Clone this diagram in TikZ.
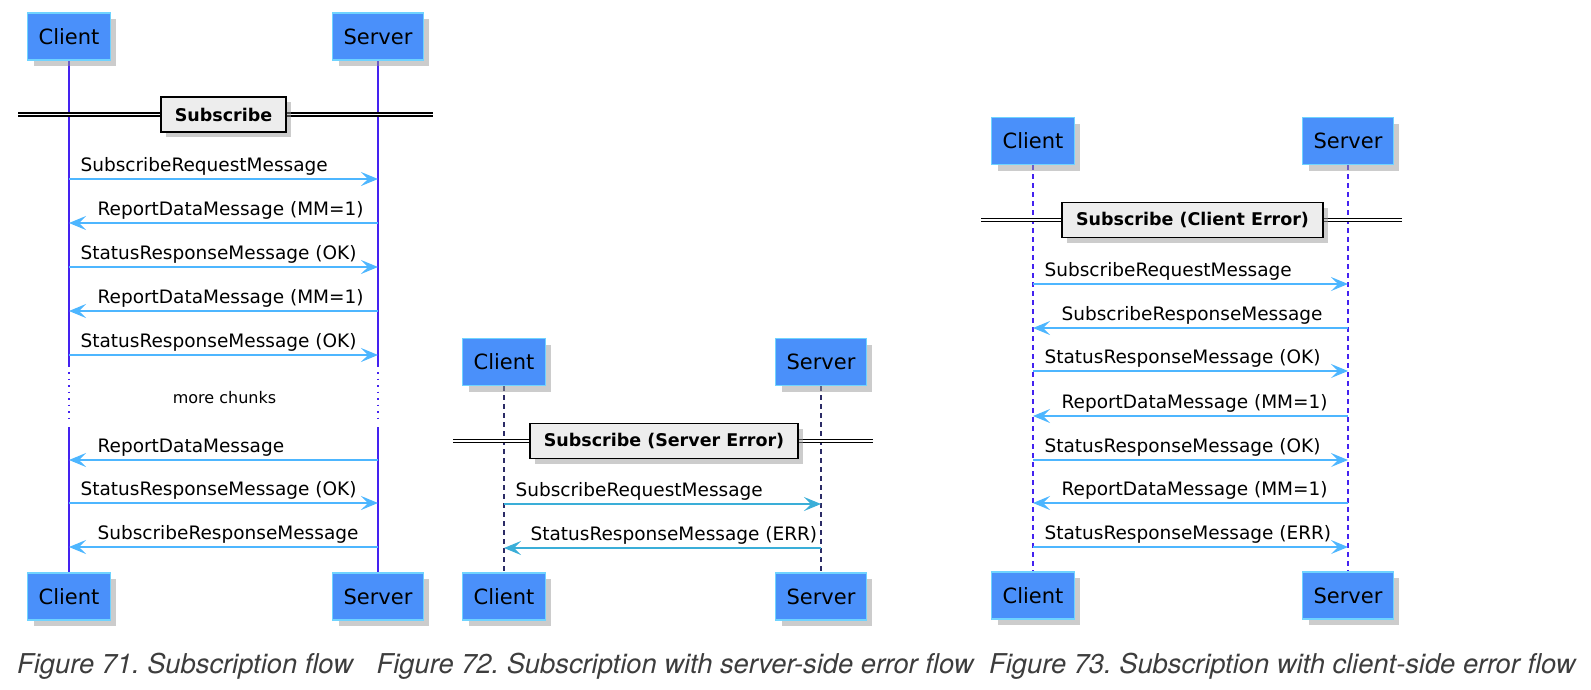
\documentclass[tikz,border=0pt]{standalone}
\usepackage{fontspec}
\setmainfont{DejaVu Sans}
\newfontfamily\capfont{TeX Gyre Heros}
\usetikzlibrary{arrows.meta,positioning,calc,shadows,backgrounds}
\frenchspacing
\definecolor{actfill}{HTML}{4A90FA}
\definecolor{actedge}{HTML}{6FD3FF}
\definecolor{msgblue}{HTML}{4DB6FF}
\definecolor{msgteal}{HTML}{3AAED8}
\definecolor{lifeblue}{HTML}{4422F0}
\definecolor{lifenavy}{HTML}{2B2B66}
\definecolor{capgray}{HTML}{3D3D3D}
\tikzset{every node/.style={font=\fontsize{18.5}{22}\selectfont,text=black},
actor/.style={draw=actedge,line width=1.3pt,fill=actfill,minimum height=47pt,inner xsep=11pt,font=\fontsize{21}{24}\selectfont,
  drop shadow={shadow xshift=6pt,shadow yshift=-6pt,fill=black!40,opacity=.5}},
group/.style={draw=black,line width=1.8pt,fill=black!7,minimum height=35pt,inner xsep=14pt,font=\bfseries\fontsize{17.5}{20}\selectfont,
  drop shadow={shadow xshift=5pt,shadow yshift=-5pt,fill=black!40,opacity=.5}},
rule/.style={draw=black,double=white,double distance=1.6pt,line width=1.3pt},
life/.style={draw=lifeblue,line width=1.1pt},
msg/.style={-{Stealth[length=17pt,width=14pt,inset=7pt]},draw=msgblue,line width=1.2pt},
rlbl/.style={pos=0,anchor=base west,inner sep=0pt,xshift=11pt,yshift=7.5pt},
llbl/.style={pos=1,anchor=base west,inner sep=0pt,xshift=28pt,yshift=7.5pt},
figcap/.style={anchor=base west,inner sep=0pt,text=capgray,font=\capfont\itshape\fontsize{27.3}{32}\selectfont}}

\begin{document}
\begin{tikzpicture}[x=1pt,y=1pt]
\useasboundingbox (0,0) rectangle (1591,-689);

\node[actor] (cli1) at (69,-36.5) {Client};
\node[actor] (srv1) at (378,-36.5) {Server};
\node[actor] (cli1b) at (69,-596.5) {Client};
\node[actor] (srv1b) at (378,-596.5) {Server};
\node[group] (grp1) at (223.5,-114.5) {Subscribe};
\node[font=\fontsize{16}{19}\selectfont] (more1) at (224.5,-398) {more chunks};
\begin{scope}[on background layer]
\draw[life] (cli1) -- (cli1 |- 0,-367) (cli1 |- 0,-427) -- (cli1b);
\draw[life] (srv1) -- (srv1 |- 0,-367) (srv1 |- 0,-427) -- (srv1b);
\draw[life,dash pattern=on 1.5pt off 5pt] (cli1 |- 0,-372) -- (cli1 |- 0,-424);
\draw[life,dash pattern=on 1.5pt off 5pt] (srv1 |- 0,-372) -- (srv1 |- 0,-424);
\draw[rule] ($(cli1 |- grp1)+(-51,0)$) -- ($(srv1 |- grp1)+(55,0)$);
\end{scope}
\draw[msg] (cli1 |- 0,-179) -- node[rlbl] {SubscribeRequestMessage} (srv1 |- 0,-179);
\draw[msg] (srv1 |- 0,-223) -- node[llbl] {ReportDataMessage (MM=1)} (cli1 |- 0,-223);
\draw[msg] (cli1 |- 0,-267) -- node[rlbl] {StatusResponseMessage (OK)} (srv1 |- 0,-267);
\draw[msg] (srv1 |- 0,-311) -- node[llbl] {ReportDataMessage (MM=1)} (cli1 |- 0,-311);
\draw[msg] (cli1 |- 0,-355) -- node[rlbl] {StatusResponseMessage (OK)} (srv1 |- 0,-355);
\draw[msg] (srv1 |- 0,-460) -- node[llbl] {ReportDataMessage} (cli1 |- 0,-460);
\draw[msg] (cli1 |- 0,-503) -- node[rlbl] {StatusResponseMessage (OK)} (srv1 |- 0,-503);
\draw[msg] (srv1 |- 0,-547) -- node[llbl] {SubscribeResponseMessage} (cli1 |- 0,-547);

\node[actor] (cli2) at (504,-362) {Client};
\node[actor] (srv2) at (821,-362) {Server};
\node[actor] (cli2b) at (504,-596.5) {Client};
\node[actor] (srv2b) at (821,-596.5) {Server};
\node[group] (grp2) at (664,-441) {Subscribe (Server Error)};
\begin{scope}[on background layer]
\draw[life,draw=lifenavy,dash pattern=on 5pt off 4pt] (cli2) -- (cli2b);
\draw[life,draw=lifenavy,dash pattern=on 5pt off 4pt] (srv2) -- (srv2b);
\draw[rule] ($(cli2 |- grp2)+(-51,0)$) -- ($(srv2 |- grp2)+(52,0)$);
\end{scope}
\draw[msg,draw=msgteal] (cli2 |- 0,-504) -- node[rlbl] {SubscribeRequestMessage} (srv2 |- 0,-504);
\draw[msg,draw=msgteal] (srv2 |- 0,-548) -- node[llbl,xshift=-2pt] {StatusResponseMessage (ERR)} (cli2 |- 0,-548);

\node[actor] (cli3) at (1033,-141) {Client};
\node[actor] (srv3) at (1348,-141) {Server};
\node[actor] (cli3b) at (1033,-595.5) {Client};
\node[actor] (srv3b) at (1348,-595.5) {Server};
\node[group] (grp3) at (1192.5,-220) {Subscribe (Client Error)};
\begin{scope}[on background layer]
\draw[life,dash pattern=on 5pt off 4pt] (cli3) -- (cli3b);
\draw[life,dash pattern=on 5pt off 4pt] (srv3) -- (srv3b);
\draw[rule] ($(cli3 |- grp3)+(-52,0)$) -- ($(srv3 |- grp3)+(54,0)$);
\end{scope}
\draw[msg] (cli3 |- 0,-284) -- node[rlbl] {SubscribeRequestMessage} (srv3 |- 0,-284);
\draw[msg] (srv3 |- 0,-328) -- node[llbl] {SubscribeResponseMessage} (cli3 |- 0,-328);
\draw[msg] (cli3 |- 0,-371) -- node[rlbl] {StatusResponseMessage (OK)} (srv3 |- 0,-371);
\draw[msg] (srv3 |- 0,-416) -- node[llbl] {ReportDataMessage (MM=1)} (cli3 |- 0,-416);
\draw[msg] (cli3 |- 0,-460) -- node[rlbl] {StatusResponseMessage (OK)} (srv3 |- 0,-460);
\draw[msg] (srv3 |- 0,-503) -- node[llbl] {ReportDataMessage (MM=1)} (cli3 |- 0,-503);
\draw[msg] (cli3 |- 0,-547) -- node[rlbl] {StatusResponseMessage (ERR)} (srv3 |- 0,-547);

\node[figcap] (fig71) at (17,-673) {Figure 71. Subscription flow};
\node[figcap] (fig72) at (376.5,-673) {Figure 72. Subscription with server-side error flow};
\node[figcap] (fig73) at (989,-673) {Figure 73. Subscription with client-side error flow};
\end{tikzpicture}
\end{document}
